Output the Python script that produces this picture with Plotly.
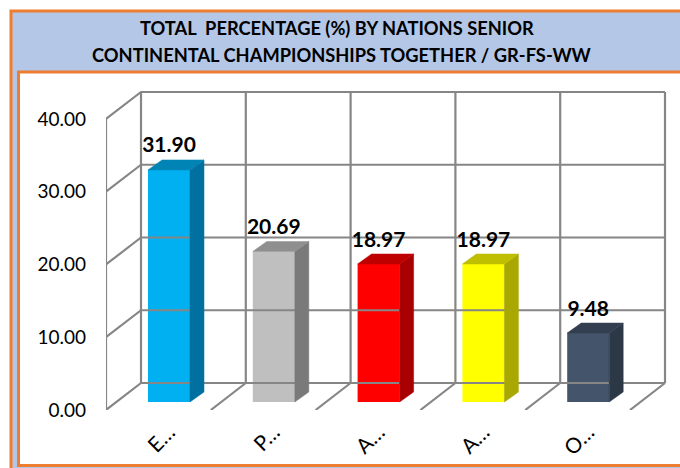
import plotly.graph_objects as go

categories = ["E…", "P…", "A…", "A…", "O…"]
values = [31.90, 20.69, 18.97, 18.97, 9.48]
value_labels = ["31.90", "20.69", "18.97", "18.97", "9.48"]
front_colors = ["#00B0F0", "#BFBFBF", "#FF0000", "#FFFF00", "#44546A"]
side_colors = ["#0070A0", "#7A7A7A", "#A80000", "#A8A800", "#2C3846"]
top_colors = ["#0084B5", "#8F8F8F", "#BF0000", "#BFBF00", "#333F50"]
y_ticks = [0, 10, 20, 30, 40]
title_lines = ["TOTAL  PERCENTAGE (%) BY NATIONS SENIOR",
               "CONTINENTAL CHAMPIONSHIPS TOGETHER / GR-FS-WW"]

W, H = 680, 468
L, R, T, B = 106, 680, 60, 410      # plot area in pixels
PX_X = 104.8                        # pixels per category
PX_Y = 7.275                        # pixels per value unit
GRID = "#868686"

x_min = -(158.5 - L) / PX_X
x_max = x_min + (R - L) / PX_X
y_max = (B - T) / PX_Y

wall_dx, wall_dy = 35 / PX_X, 27 / PX_Y     # depth of the chart box
bar_dx, bar_dy = 14 / PX_X, 10 / PX_Y       # depth of one bar
bar_shift, bar_lift = 10.5 / PX_X, 8 / PX_Y # bar position within the box
bar_w = 42 / PX_X

fig = go.Figure()

# Box lines
n = len(categories)
gx, gy = [], []
left_edge = x_min
for v in y_ticks:                            # back wall and left wall levels
    gx += [left_edge, left_edge + wall_dx, left_edge + wall_dx + n, None]
    gy += [v, v + wall_dy, v + wall_dy, None]
gx += [left_edge, left_edge, None]           # front-left upright
gy += [y_ticks[0], y_ticks[-1], None]
for i in range(n + 1):                       # back uprights
    gx += [left_edge + wall_dx + i, left_edge + wall_dx + i, None]
    gy += [y_ticks[0] + wall_dy, y_ticks[-1] + wall_dy, None]
    if i > 0:                                # floor diagonals
        gx += [left_edge + i, left_edge + wall_dx + i, None]
        gy += [y_ticks[0], y_ticks[0] + wall_dy, None]
fig.add_trace(go.Scatter(x=gx, y=gy, mode="lines", line=dict(color=GRID, width=2.2),
                         hoverinfo="skip", showlegend=False, cliponaxis=False))

# Bars: front faces through a bar trace, side and top faces as filled polygons
centers = [i + bar_shift for i in range(n)]
for i, v in enumerate(values):
    x0 = centers[i] - bar_w / 2
    x1 = centers[i] + bar_w / 2
    y0 = bar_lift
    y1 = bar_lift + v
    fig.add_trace(go.Scatter(
        x=[x1, x1 + bar_dx, x1 + bar_dx, x1, x1],
        y=[y0, y0 + bar_dy, y1 + bar_dy, y1, y0],
        fill="toself", fillcolor=side_colors[i], mode="lines",
        line=dict(color=side_colors[i], width=0.5), hoverinfo="skip", showlegend=False))
    fig.add_trace(go.Scatter(
        x=[x0, x0 + bar_dx, x1 + bar_dx, x1, x0],
        y=[y1, y1 + bar_dy, y1 + bar_dy, y1, y1],
        fill="toself", fillcolor=top_colors[i], mode="lines",
        line=dict(color=top_colors[i], width=0.5), hoverinfo="skip", showlegend=False))
fig.add_trace(go.Bar(x=centers, y=values, base=bar_lift, width=bar_w,
                     marker=dict(color=front_colors, line=dict(width=0)),
                     showlegend=False))
fig.add_trace(go.Scatter(
    x=centers, y=[v + bar_lift + bar_dy + 0.3 for v in values],
    mode="text", text=value_labels, textposition="top center",
    textfont=dict(family="Lato", size=21, color="black", weight="bold"),
    hoverinfo="skip", showlegend=False, cliponaxis=False))

def px(x):
    return (x - L) / (R - L)
def py(y):
    return (B - y) / (B - T)

def frame(x0, y0, x1, y1, fill, line_w=0, line="#ED7D31"):
    return dict(type="rect", xref="paper", yref="paper", layer="below",
                x0=px(x0), x1=px(x1), y0=py(y0), y1=py(y1), fillcolor=fill,
                line=dict(color=line, width=line_w))

shapes = [
    frame(11, 11, 690, 480, "#B4C7E7", 3),
    frame(18.5, 72, 690, 465.5, "white", 3),
]
annotations = [
    dict(text=title_lines[0], xref="paper", yref="paper", x=px(337), y=py(28), showarrow=False,
         font=dict(family="Lato", size=18.3, color="black", weight="bold"), xanchor="center", yanchor="middle"),
    dict(text=title_lines[1], xref="paper", yref="paper", x=px(342), y=py(55), showarrow=False,
         font=dict(family="Lato", size=18.3, color="black", weight="bold"), xanchor="center", yanchor="middle"),
]

fig.update_layout(
    width=W, height=H, autosize=False,
    margin=dict(l=L, r=W - R, t=T, b=H - B, pad=0),
    paper_bgcolor="white", plot_bgcolor="rgba(0,0,0,0)",
    showlegend=False, shapes=shapes, annotations=annotations,
    xaxis=dict(range=[x_min, x_max], tickvals=centers, ticktext=categories, tickangle=-45,
               showgrid=False, zeroline=False, showline=False, ticks="",
               ticklabelstandoff=5,
               tickfont=dict(family="Lato", size=21, color="black")),
    yaxis=dict(range=[0, y_max], tickvals=y_ticks, tickformat=".2f",
               showgrid=False, zeroline=False, showline=False, ticks="",
               ticklabelstandoff=19,
               tickfont=dict(family="Lato", size=19, color="black")),
)
fig.write_html("out.html", config=dict(displayModeBar=False),
               post_script="document.documentElement.style.overflow='hidden';document.body.style.margin='0';")
